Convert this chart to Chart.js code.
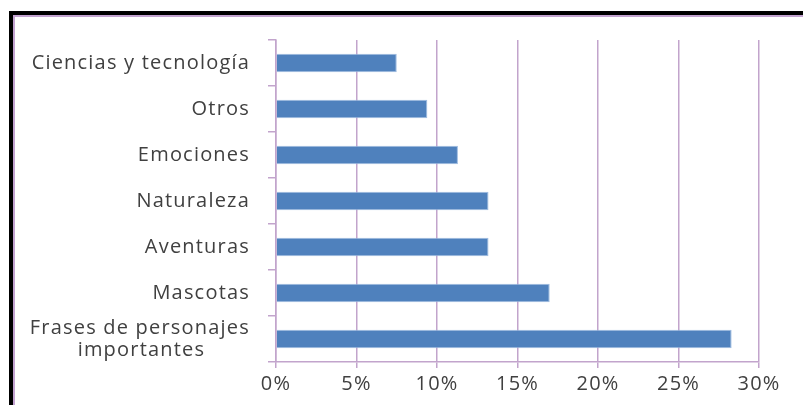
<!DOCTYPE html>
<html>
<head>
<meta charset="utf-8">
<script src="https://cdn.jsdelivr.net/npm/chart.js@4/dist/chart.umd.min.js"></script>
<style>
  html, body { margin: 0; padding: 0; background: #fff; }
  body { width: 803px; height: 405px; position: relative; overflow: hidden; }
  .frame {
    position: absolute; left: 9px; top: 11px; right: -10px; bottom: -10px;
    border-top: 4px solid #000; border-left: 4px solid #000;
    box-shadow: inset 2px 2px 0 0 #c3a3d0;
  }
  #chart { position: absolute; left: 0; top: 0; }
</style>
</head>
<body>
<div class="frame"></div>
<canvas id="chart" width="803" height="405"></canvas>
<script>
const categories = [
  'Ciencias y tecnología',
  'Otros',
  'Emociones',
  'Naturaleza',
  'Aventuras',
  'Mascotas',
  ['Frases de personajes', 'importantes       ']
];
const percentages = [7.5, 9.4, 11.3, 13.2, 13.2, 17.0, 28.3];
const axisMax = 30;
const axisStep = 5;

const gridColor = '#c2a4cc';
const textColor = '#404040';
const labelFont = { family: '"Open Sans", sans-serif', size: 20, lineHeight: 1.1 };

// wider lettering for the axis labels
const spacing = {
  id: 'spacing',
  beforeLayout: chart => { chart.ctx.letterSpacing = '1.2px'; },
  beforeDraw: chart => { chart.ctx.letterSpacing = '1.2px'; }
};

new Chart(document.getElementById('chart').getContext('2d'), {
  type: 'bar',
  data: {
    labels: categories,
    datasets: [{
      data: percentages,
      backgroundColor: '#4f81bd',
      borderColor: '#9dbbe0',
      borderWidth: 1,
      barPercentage: 0.4,
      categoryPercentage: 1
    }]
  },
  plugins: [spacing],
  options: {
    indexAxis: 'y',
    responsive: false,
    animation: false,
    layout: { padding: { left: 20, top: 35, right: 44, bottom: 0 } },
    plugins: { legend: { display: false }, tooltip: { enabled: false } },
    scales: {
      x: {
        min: 0,
        max: axisMax,
        afterFit: scale => { scale.height = 43; },
        ticks: {
          stepSize: axisStep,
          padding: 5,
          color: textColor,
          font: labelFont,
          callback: v => v + '%'
        },
        grid: { color: gridColor, lineWidth: 1.5, tickLength: 6 },
        border: { color: gridColor, width: 1.5 }
      },
      y: {
        afterFit: scale => { scale.width = 256; },
        ticks: { autoSkip: false, padding: 18, color: textColor, font: labelFont },
        grid: {
          offset: true,
          drawOnChartArea: false,
          color: gridColor,
          lineWidth: 1.5,
          tickLength: 8
        },
        border: { color: gridColor, width: 1.5 }
      }
    }
  }
});
</script>
</body>
</html>
